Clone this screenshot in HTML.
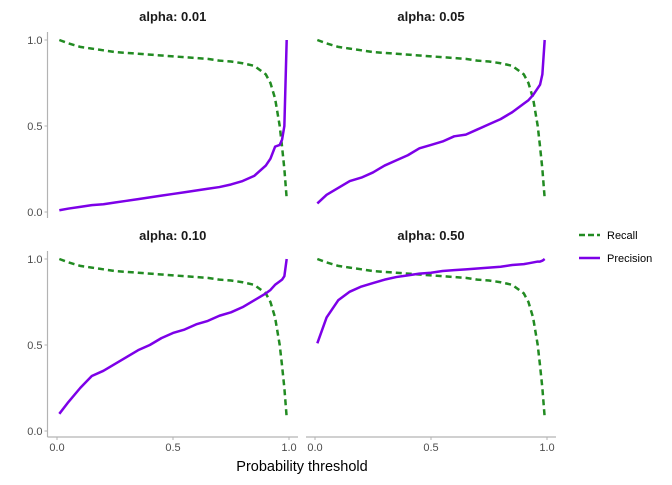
<!DOCTYPE html>
<html><head><meta charset="utf-8"><style>
body{margin:0;background:#fff;font-family:"Liberation Sans",sans-serif}
svg text{font-family:"Liberation Sans",sans-serif}
</style></head><body>
<svg id="c" width="672" height="480" xmlns="http://www.w3.org/2000/svg"></svg>
<script>
const thresholds=[0.01,0.05,0.1,0.15,0.2,0.25,0.3,0.35,0.4,0.45,0.5,0.55,0.6,0.65,0.7,0.75,0.8,0.85,0.9,0.92,0.94,0.96,0.97,0.98,0.99];
const recall=[1.0,0.98,0.96,0.95,0.94,0.93,0.925,0.92,0.915,0.91,0.905,0.9,0.895,0.89,0.88,0.875,0.865,0.85,0.8,0.75,0.66,0.5,0.38,0.25,0.08];
const alphaLabels=["alpha: 0.01","alpha: 0.05","alpha: 0.10","alpha: 0.50"];
const precision01=[0.01,0.02,0.03,0.04,0.045,0.055,0.065,0.075,0.085,0.095,0.105,0.115,0.125,0.135,0.145,0.16,0.18,0.21,0.27,0.31,0.38,0.39,0.42,0.5,1.0];
const precision05=[0.05,0.1,0.14,0.18,0.2,0.23,0.27,0.3,0.33,0.37,0.39,0.41,0.44,0.45,0.48,0.51,0.54,0.58,0.63,0.65,0.68,0.72,0.74,0.8,1.0];
const precision10=[0.1,0.17,0.25,0.32,0.35,0.39,0.43,0.47,0.5,0.54,0.57,0.59,0.62,0.64,0.67,0.69,0.72,0.76,0.8,0.82,0.85,0.87,0.88,0.9,1.0];
const precision50=[0.51,0.66,0.76,0.81,0.84,0.86,0.88,0.895,0.905,0.915,0.92,0.93,0.935,0.94,0.945,0.95,0.955,0.965,0.97,0.975,0.98,0.985,0.985,0.99,1.0];
const tickVals=[0,0.5,1];
const tickLabels=["0.0","0.5","1.0"];

const svg=document.getElementById('c');
const NS="http://www.w3.org/2000/svg";
function el(t,a,p){const e=document.createElementNS(NS,t);for(const k in a)e.setAttribute(k,a[k]);(p||svg).appendChild(e);return e;}
const GREEN="#228B22",PURPLE="#7d00e8";
const panels=[
 {x0:57,x1:289,y0:212,y1:40,left:47.5,top:32,bottom:218,right:298,prec:precision01,showY:true,showX:false},
 {x0:315,x1:547,y0:212,y1:40,left:306,top:32,bottom:218,right:556,prec:precision05,showY:false,showX:false},
 {x0:57,x1:289,y0:431,y1:259,left:47.5,top:251,bottom:437,right:298,prec:precision10,showY:true,showX:true},
 {x0:315,x1:547,y0:431,y1:259,left:306,top:251,bottom:437,right:556,prec:precision50,showY:false,showX:true}];
panels.forEach((p,i)=>{
 const g=el('g',{});
 
 
 const sx=v=>p.x0+(p.x1-p.x0)*v, sy=v=>p.y0+(p.y1-p.y0)*v;
 const t=el('text',{x:(p.left+p.right)/2,y:p.top-11,'text-anchor':'middle','font-size':13,'font-weight':'bold',fill:'#1a1a1a'},g);
 t.textContent=alphaLabels[i];
 
 
 if(p.showY){
  el('line',{x1:p.left,y1:p.top,x2:p.left,y2:p.bottom,stroke:'#b3b3b3','stroke-width':1.2},g);
  tickVals.forEach((v,j)=>{
   el('line',{x1:p.left-3,x2:p.left,y1:sy(v),y2:sy(v),stroke:'#b3b3b3','stroke-width':1},g);
   const tt=el('text',{x:p.left-5,y:sy(v)+4,'text-anchor':'end','font-size':11,fill:'#4d4d4d'},g);
   tt.textContent=tickLabels[j];
   
   
  });
 }
 if(p.showX){
  el('line',{x1:p.left,y1:p.bottom,x2:p.right,y2:p.bottom,stroke:'#b3b3b3','stroke-width':1.2},g);
  tickVals.forEach((v,j)=>{
   el('line',{x1:sx(v),x2:sx(v),y1:p.bottom,y2:p.bottom+3,stroke:'#b3b3b3','stroke-width':1},g);
   const tt=el('text',{x:sx(v),y:p.bottom+14,'text-anchor':'middle','font-size':11,fill:'#4d4d4d'},g);
   tt.textContent=tickLabels[j];
   
   
  });
 }
 const rp=el('polyline',{points:thresholds.map((x,k)=>sx(x)+','+sy(recall[k])).join(' '),fill:'none',stroke:GREEN,'stroke-width':2.5,'stroke-dasharray':'6,4'},g);
 
 
 const pp=el('polyline',{points:thresholds.map((x,k)=>sx(x)+','+sy(p.prec[k])).join(' '),fill:'none',stroke:PURPLE,'stroke-width':2.5,'stroke-linejoin':'round'},g);
 
 
});
const xt=el('text',{x:302,y:471,'text-anchor':'middle','font-size':14.5,fill:'#000'});
xt.textContent='Probability threshold';


const lg=el('g',{});


el('line',{x1:579,x2:600,y1:235,y2:235,stroke:GREEN,'stroke-width':2.5,'stroke-dasharray':'6,3'},lg);
const l1=el('text',{x:607,y:239,'font-size':11,fill:'#000'},lg);l1.textContent='Recall';


el('line',{x1:579,x2:600,y1:258,y2:258,stroke:PURPLE,'stroke-width':2.5},lg);
const l2=el('text',{x:607,y:262,'font-size':11,fill:'#000'},lg);l2.textContent='Precision';


</script>
</body></html>
